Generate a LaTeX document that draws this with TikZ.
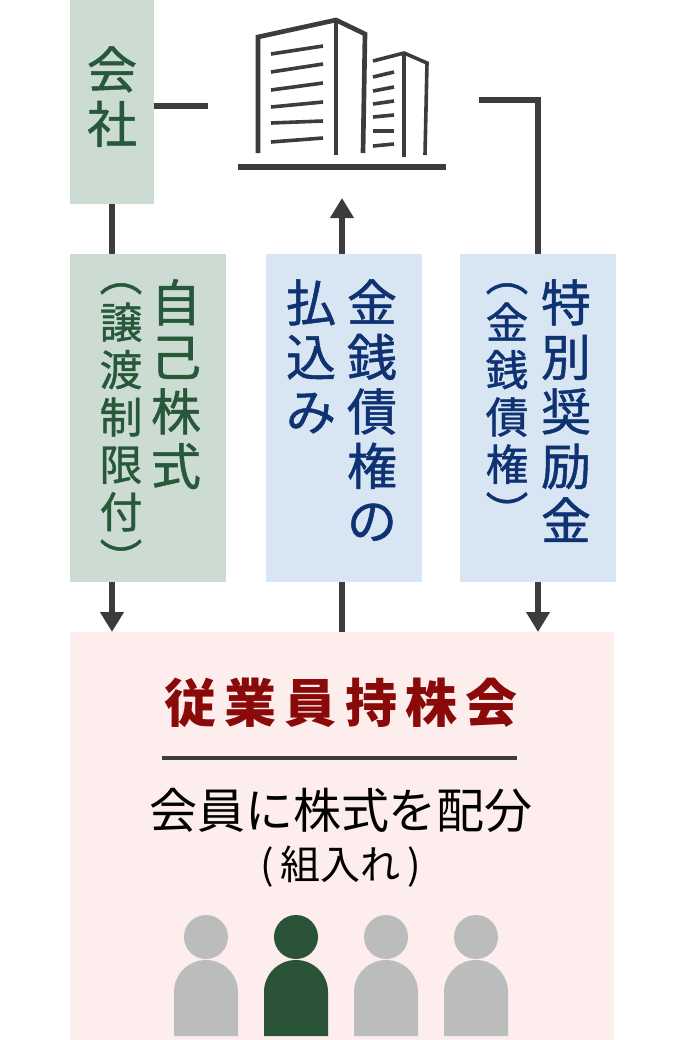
\documentclass[tikz,border=0pt]{standalone}
\usepackage{fontspec}
\usepackage{xcolor}
\setmainfont{Noto Sans CJK JP}
\newfontfamily\midfont[FakeBold=1]{Noto Sans CJK JP}
\usetikzlibrary{arrows.meta}

\definecolor{boxgreen}{HTML}{CCDCD2}
\definecolor{boxblue}{HTML}{D8E5F2}
\definecolor{boxpink}{HTML}{FDEDED}
\definecolor{textgreen}{HTML}{27583A}
\definecolor{textblue}{HTML}{0F3273}
\definecolor{textred}{HTML}{8A0A0A}
\definecolor{linegray}{HTML}{3C3C3C}
\definecolor{persongray}{HTML}{BBBDBC}
\definecolor{persongreen}{HTML}{2A5337}

\tikzset{
    flatbox/.style={inner sep=0pt, outer sep=0pt},
    bigcol/.style={inner sep=0pt, anchor=north, align=center, font=\midfont\fontsize{37.5}{40.9}\selectfont},
    smallcol/.style={inner sep=0pt, anchor=north, align=center, font=\midfont\fontsize{32}{35.5}\selectfont},
    conn/.style={draw=linegray, line width=3.8pt},
    thinbld/.style={draw=linegray, line width=3.5pt},
    winbld/.style={draw=linegray, line width=2.7pt},
    tip/.style={-{Triangle[length=15pt, width=17pt]}},
}

\begin{document}
\begin{tikzpicture}[x=0.75pt, y=-0.75pt]
        \useasboundingbox (0,0) rectangle (684,1040);

        \node[flatbox, fill=boxgreen, minimum width=63pt, minimum height=153pt] (kaisha) at (112,102) {};
        \node[flatbox, fill=boxgreen, minimum width=117pt, minimum height=246pt] (jisha) at (148,418) {};
        \node[flatbox, fill=boxblue, minimum width=117pt, minimum height=246pt] (kinsen) at (344,418) {};
        \node[flatbox, fill=boxblue, minimum width=117pt, minimum height=246pt] (tokubetsu) at (538,418) {};
        \node[flatbox, fill=boxpink, minimum width=408pt, minimum height=306pt] (mochikabu) at (342,836) {};

        \node[bigcol, text=textgreen] (kaishatxt) at (112,46) {会\\社};
        \node[bigcol, text=textgreen] (jishatxt) at (176,279) {自\\己\\株\\式};
        \node[smallcol, text=textgreen] (jouto) at (121,283) {︵\\譲\\渡\\制\\限\\付\\︶};
        \node[bigcol, text=textblue] (kinsentxt) at (372,279) {金\\銭\\債\\権\\の};
        \node[bigcol, text=textblue] (harai) at (311,279) {払\\込\\み};
        \node[bigcol, text=textblue] (tokutxt) at (566,279) {特\\別\\奨\\励\\金};
        \node[smallcol, text=textblue] (kinsenken) at (507,283) {︵\\金\\銭\\債\\権\\︶};

        \node[inner sep=0pt, text=textred, font=\bfseries\fontsize{39}{42}\selectfont] (title) at (341,703)
            {\addfontfeature{LetterSpace=16}従業員持株会};
        \coordinate (ruleL) at (162,758);
        \coordinate (ruleR) at (517,758);
        \draw[linegray, line width=3pt] (ruleL) -- (ruleR);
        \node[inner sep=0pt, font=\fontsize{36}{40}\selectfont] (haibun) at (341,810) {会員に株式を配分};
        \node[inner sep=0pt, font=\fontsize{30}{34}\selectfont] (kumiire) at (341,867) {(\,組入れ\,)};

        \coordinate (bldgL) at (208,106);
        \coordinate (bldgR) at (479,100);
        \coordinate (bldgB) at (342,198);
        \draw[conn] (kaisha.east |- bldgL) -- (bldgL);
        \draw[conn] (kaisha.south) -- (kaisha.south |- jisha.north);
        \draw[conn] (bldgR) -- (tokubetsu.north |- bldgR) -- (tokubetsu.north);
        \draw[conn, tip] (bldgB |- kinsen.north) -- (bldgB);
        \draw[conn, tip] (kaisha.south |- jisha.south) -- (kaisha.south |- mochikabu.north);
        \draw[conn] (bldgB |- kinsen.south) -- (bldgB |- mochikabu.north);
        \draw[conn, tip] (tokubetsu.south) -- (tokubetsu.south |- mochikabu.north);

        \draw[thinbld] (258,153) -- (258,37) -- (336,20) -- (365,34) -- (363,153);
        \draw[thinbld] (336,20) -- (336,155);
        \draw[winbld] (271,54) -- (323,46);
        \draw[winbld] (271,72) -- (323,64);
        \draw[winbld] (271,90) -- (323,83);
        \draw[winbld] (271,107) -- (323,102);
        \draw[winbld] (271,123) -- (323,121);
        \draw[winbld] (271,142) -- (323,138);
        \draw[winbld] (373,61) -- (404,53) -- (427,63) -- (425,155);
        \draw[winbld] (404,53) -- (404,157);
        \draw[winbld] (373,77) -- (394,72);
        \draw[winbld] (373,91) -- (394,87);
        \draw[winbld] (373,104) -- (394,101);
        \draw[winbld] (373,117) -- (394,115);
        \draw[winbld] (373,131) -- (394,131);
        \draw[winbld] (373,146) -- (394,144);
        \draw[conn] (238,167) -- (446,167);

        \foreach \px/\pc in {206/persongray, 296/persongreen, 386/persongray, 476/persongray} {
            \fill[\pc] (\px,937) circle [radius=16.5pt];
            \fill[\pc] ([xshift=-24pt]\px,1036) -- ([xshift=-24pt]\px,992) arc [start angle=180, end angle=0, radius=24pt] -- ([xshift=24pt]\px,1036) -- cycle;
        }
    \end{tikzpicture}
\end{document}
